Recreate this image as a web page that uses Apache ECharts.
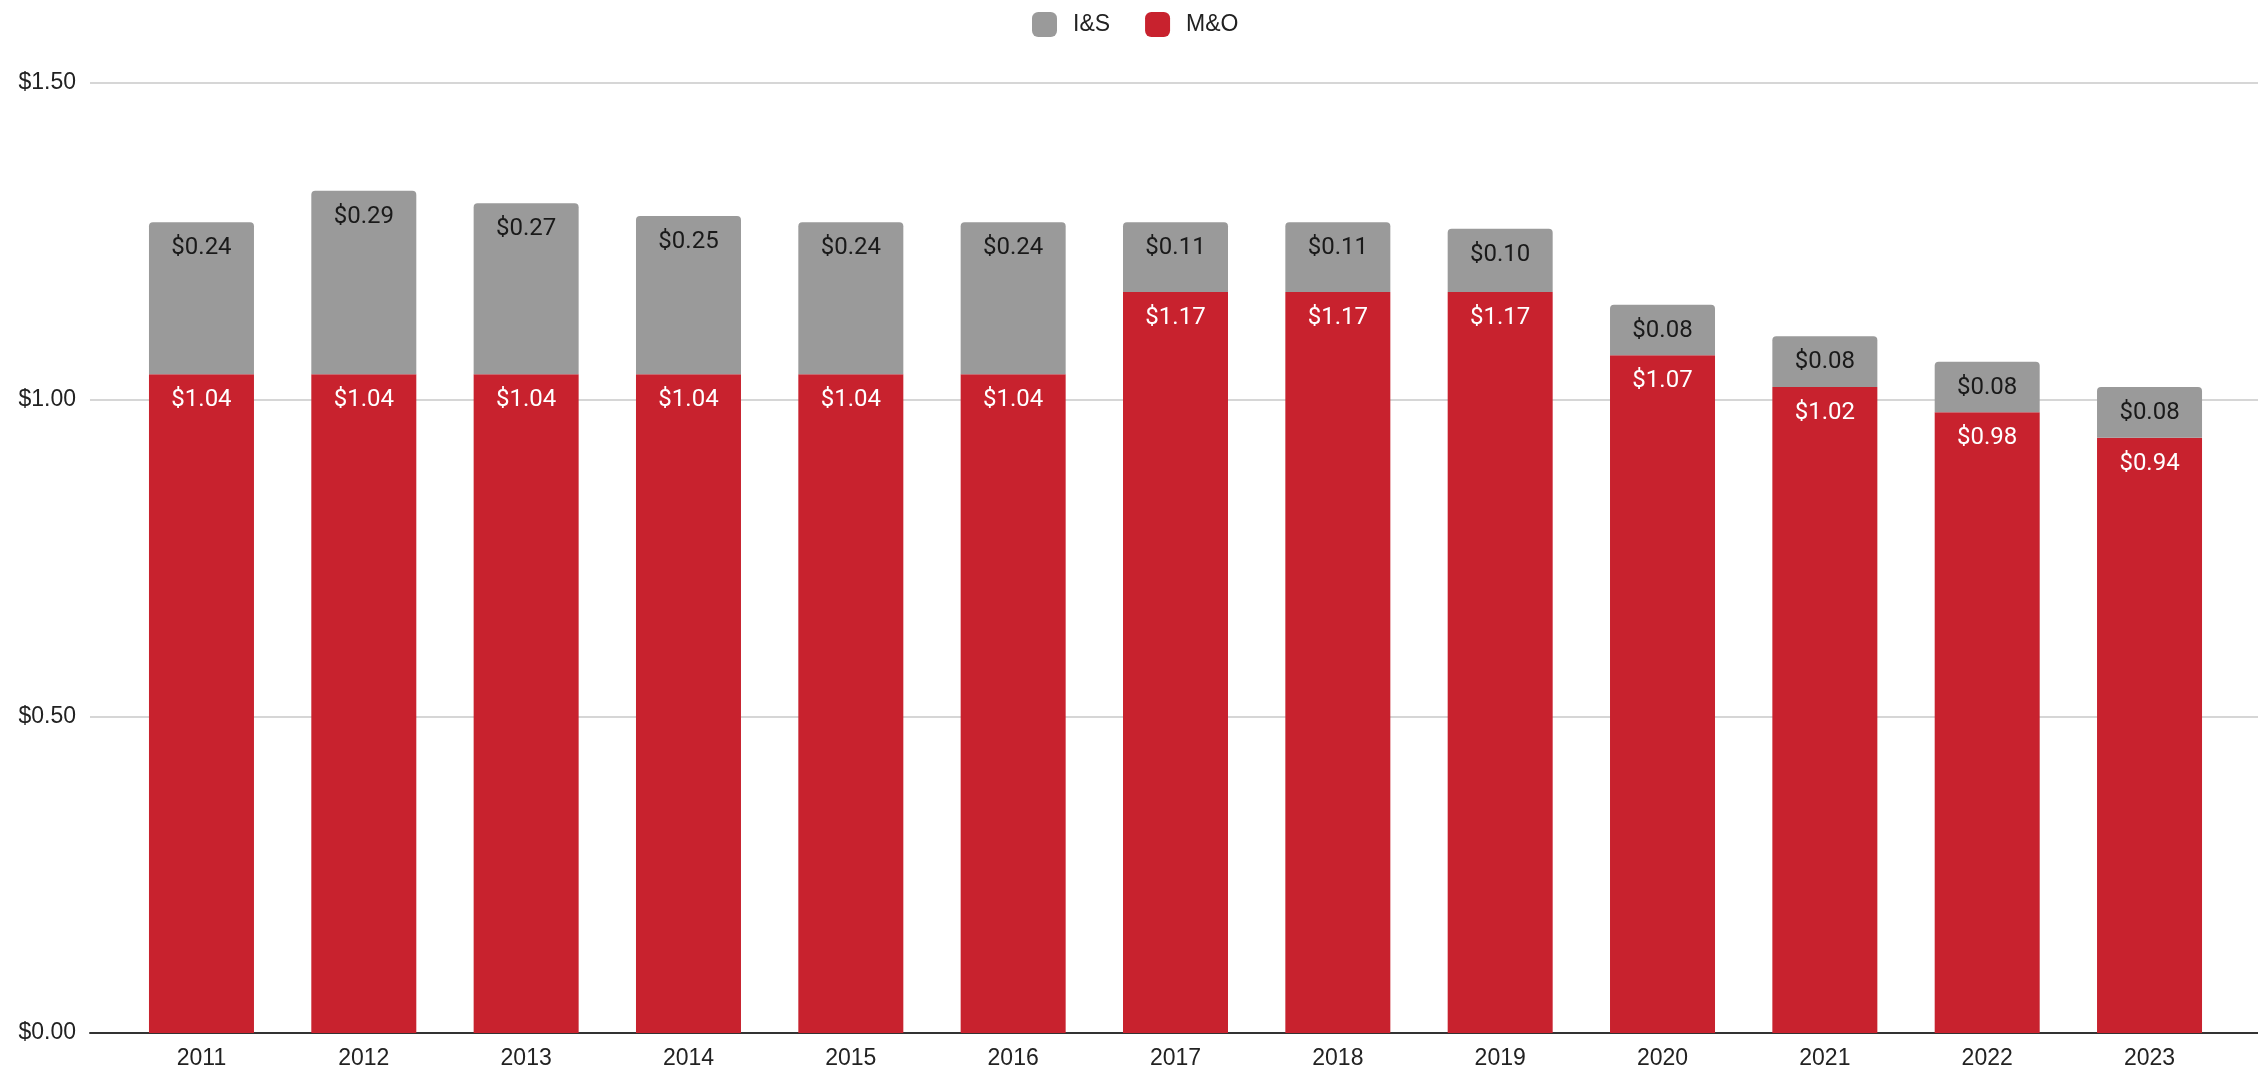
<!DOCTYPE html>
<html>
<head>
<meta charset="utf-8">
<script src="https://cdn.jsdelivr.net/npm/echarts@6/dist/echarts.min.js"></script>
<style>html,body{margin:0;padding:0;background:#fff}#c{width:2258px;height:1072px}</style>
</head>
<body>
<div id="c"></div>
<script>
const years = ['2011','2012','2013','2014','2015','2016','2017','2018','2019','2020','2021','2022','2023'];
const mo = [1.04,1.04,1.04,1.04,1.04,1.04,1.17,1.17,1.17,1.07,1.02,0.98,0.94];
const is = [0.24,0.29,0.27,0.25,0.24,0.24,0.11,0.11,0.10,0.08,0.08,0.08,0.08];
const yTicks = [0, 0.5, 1.0, 1.5];

const chart = echarts.init(document.getElementById('c'));
const fmt = v => '$' + Number(v).toFixed(2);
chart.setOption({
  animation: false,
  backgroundColor: '#ffffff',
  legend: {
    data: ['I&S', 'M&O'],
    left: 1027, top: 7,
    itemWidth: 25, itemHeight: 25, itemGap: 35,
    icon: 'roundRect',
    textStyle: { fontFamily: 'Liberation Sans', fontSize: 23, color: '#222', padding: [0,0,0,11] }
  },
  grid: [
    { left: 90, right: 0, top: 83, bottom: 39 },
    { left: 120.3, right: 27.3, top: 83, bottom: 39 }
  ],
  xAxis: [
    { gridIndex: 0, type: 'value', min: 0, max: 1, axisLine: { show: true, lineStyle: { color: '#333', width: 2 } },
      axisTick: { show: false }, axisLabel: { show: false }, splitLine: { show: false } },
    { gridIndex: 1, type: 'category', data: years, axisLine: { show: false }, axisTick: { show: false },
      axisLabel: { fontFamily: 'Liberation Sans', fontSize: 23, color: '#222', margin: 14 } }
  ],
  yAxis: [
    { gridIndex: 0, type: 'value', min: yTicks[0], max: yTicks[yTicks.length-1], interval: 0.5,
      axisLine: { show: false }, axisTick: { show: false },
      axisLabel: { formatter: fmt, fontFamily: 'Liberation Sans', fontSize: 23, color: '#222', margin: 14 },
      splitLine: { lineStyle: { color: '#d6d6d6', width: 2 } } },
    { gridIndex: 1, type: 'value', min: 0, max: 1.5, show: false, splitLine: { show: false } }
  ],
  series: [
    { name: 'M&O', type: 'bar', stack: 'a', xAxisIndex: 1, yAxisIndex: 1, data: mo, barWidth: 105,
      itemStyle: { color: '#C8222E' },
      label: { show: true, position: 'insideTop', distance: 14, formatter: p => fmt(p.value),
        fontFamily: 'Roboto', fontSize: 24, color: '#ffffff' } },
    { name: 'I&S', type: 'bar', stack: 'a', xAxisIndex: 1, yAxisIndex: 1, data: is, barWidth: 105,
      itemStyle: { color: '#9a9a9a', borderRadius: [4,4,0,0] },
      label: { show: true, position: 'insideTop', distance: 14, formatter: p => fmt(p.value),
        fontFamily: 'Roboto', fontSize: 24, color: '#1a1a1a' } }
  ]
});
</script>
</body>
</html>
